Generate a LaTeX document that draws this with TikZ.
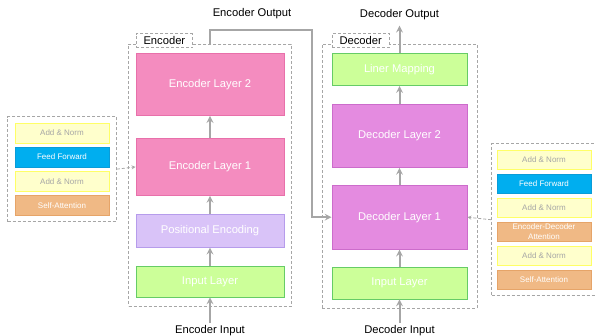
\documentclass[tikz,border=0pt]{standalone}
\usepackage{fontspec}
\setmainfont{Liberation Sans}
\usetikzlibrary{arrows, shapes, calc, positioning, fit}

\definecolor{encpink}{HTML}{F48CBF}
\definecolor{encpinkline}{HTML}{E870AA}
\definecolor{decviolet}{HTML}{E48BE0}
\definecolor{decvioletline}{HTML}{CC6CCB}
\definecolor{inpgreen}{HTML}{CCFF99}
\definecolor{inpgreenline}{HTML}{66CC66}
\definecolor{poslilac}{HTML}{D9C3F8}
\definecolor{poslilacline}{HTML}{B69CEB}
\definecolor{normyellow}{HTML}{FFFFCC}
\definecolor{normyellowline}{HTML}{FFFF66}
\definecolor{ffblue}{HTML}{00AEEF}
\definecolor{ffblueline}{HTML}{0A9CD8}
\definecolor{attorange}{HTML}{F0B985}
\definecolor{attorangeline}{HTML}{E6A468}
\definecolor{linegray}{HTML}{A6A6A6}

\begin{document}
\begin{tikzpicture}[x=1pt, y=-1pt, >=stealth,
    layer/.style={draw, line width=0.8pt, inner sep=0pt, text=white,
        font=\fontsize{11.2}{13}\selectfont},
    sublayer/.style={draw, line width=0.8pt, inner sep=0pt, minimum width=94pt,
        minimum height=20pt, text=white, align=center, font=\fontsize{8}{9.3}\selectfont},
    norm/.style={sublayer, fill=normyellow, draw=normyellowline, text=linegray},
    group/.style={draw=linegray, dash pattern=on 3pt off 2pt, line width=0.8pt},
    tag/.style={group, fill=white, inner xsep=7.5pt, inner ysep=0pt, minimum height=14pt,
        font=\fontsize{11.2}{13}\selectfont},
    caption/.style={inner sep=2pt, font=\fontsize{11.2}{13}\selectfont},
    flow/.style={draw=linegray, line width=2pt},
    link/.style={draw=linegray, dash pattern=on 3pt off 2pt, line width=0.8pt}
]
\useasboundingbox (0,0) rectangle (595,336);

% encoder stack
\draw
    node [layer, fill=inpgreen, draw=inpgreenline, minimum width=148pt, minimum height=31pt] (inp) at (210,281.5) {Input Layer}
    node [layer, fill=poslilac, draw=poslilacline, minimum width=148pt, minimum height=33pt, above=18pt of inp] (pos) {Positional Encoding}
    node [layer, fill=encpink, draw=encpinkline, minimum width=148pt, minimum height=57pt, above=18pt of pos] (enc1) {Encoder Layer 1}
    node [layer, fill=encpink, draw=encpinkline, minimum width=148pt, minimum height=62pt, above=22pt of enc1] (enc2) {Encoder Layer 2}
;
\node [group, fit=(enc2)(inp), inner xsep=7pt, inner ysep=9pt] (encbox) {};
\node [tag, anchor=west] (enctag) at ($(encbox.north -| enc2.west)+(0,-3)$) {Encoder};

% decoder stack
\draw
    node [layer, fill=inpgreen, draw=inpgreenline, minimum width=135pt, minimum height=32pt] (dinp) at (399.5,283) {Input Layer}
    node [layer, fill=decviolet, draw=decvioletline, minimum width=135pt, minimum height=64pt, above=17pt of dinp] (dec1) {Decoder Layer 1}
    node [layer, fill=decviolet, draw=decvioletline, minimum width=135pt, minimum height=63pt, above=17pt of dec1] (dec2) {Decoder Layer 2}
    node [layer, fill=inpgreen, draw=inpgreenline, minimum width=135pt, minimum height=32pt, above=18pt of dec2] (lin) {Liner Mapping}
;
\node [group, fit=(lin)(dinp), inner xsep=9.5pt, inner ysep=9pt] (decbox) {};
\node [tag, anchor=west] (dectag) at ($(decbox.north -| lin.west)+(0,-3)$) {Decoder};

% inside of an encoder layer
\draw
    node [norm] (lan1) at (62,133) {Add \& Norm}
    node [sublayer, fill=ffblue, draw=ffblueline, below=3.3pt of lan1] (lff) {Feed Forward}
    node [norm, below=3.3pt of lff] (lan2) {Add \& Norm}
    node [sublayer, fill=attorange, draw=attorangeline, below=3.3pt of lan2] (lsa) {Self-Attention}
;
\node [group, fit=(lan1)(lsa), inner xsep=7pt, inner ysep=6pt] (lgroup) {};

% inside of a decoder layer
\draw
    node [norm, minimum height=19.5pt] (ran1) at (544,159.75) {Add \& Norm}
    node [sublayer, minimum height=19.5pt, fill=ffblue, draw=ffblueline, below=3.7pt of ran1] (rff) {Feed Forward}
    node [norm, minimum height=19.5pt, below=3.7pt of rff] (ran2) {Add \& Norm}
    node [sublayer, minimum height=19.5pt, fill=attorange, draw=attorangeline, below=3.7pt of ran2] (reda) {Encoder-Decoder\\Attention}
    node [norm, minimum height=19.5pt, below=3.7pt of reda] (ran3) {Add \& Norm}
    node [sublayer, minimum height=19.5pt, fill=attorange, draw=attorangeline, below=3.7pt of ran3] (rsa) {Self-Attention}
;
\node [group, fit=(ran1)(rsa), inner xsep=5pt, inner ysep=6pt] (rgroup) {};

% inputs and outputs
\node [caption] (encin) at ($(inp.south)+(0,33)$) {Encoder Input};
\node [caption] (decin) at ($(dinp.south)+(0,31)$) {Decoder Input};
\node [caption] (encout) at ($(encbox.north)+(42,-30)$) {Encoder Output};
\node [caption] (decout) at ($(lin.north)+(0,-39)$) {Decoder Output};
\coordinate (bypass) at ($(encbox.north east)+(20,-14)$);

\draw[flow, ->] (encin) -- (inp);
\draw[flow, ->] (inp) -- (pos);
\draw[flow, ->] (pos) -- (enc1);
\draw[flow, ->] (enc1) -- (enc2);
\draw[flow, ->] (decin) -- (dinp);
\draw[flow, ->] (dinp) -- (dec1);
\draw[flow, ->] (dec1) -- (dec2);
\draw[flow, ->] (dec2) -- (lin);
\draw[flow, ->, shorten >=4pt] (lin) -- (decout);
\draw[flow, ->] (encbox.north) |- (bypass) |- (dec1.west);
\draw[link, ->] (lgroup.east) -- (enc1.west);
\draw[link, ->] (rgroup.west) -- (dec1.east);
\end{tikzpicture}
\end{document}
